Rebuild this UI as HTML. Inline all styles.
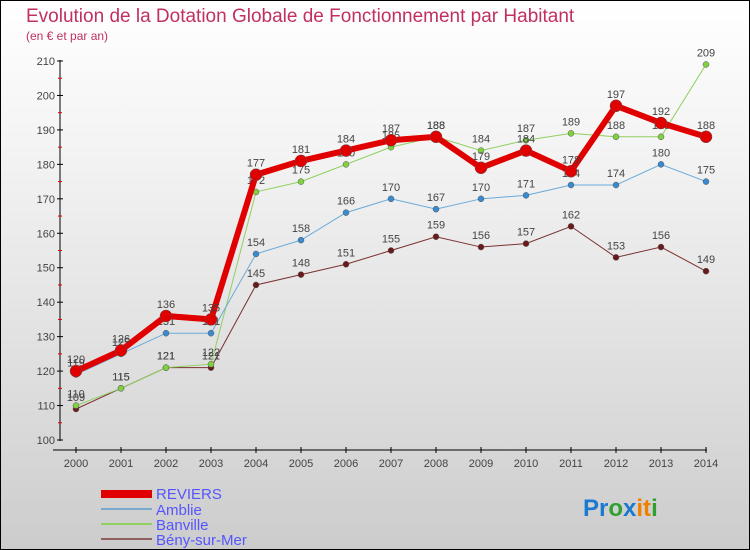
<!DOCTYPE html>
<html><head><meta charset="utf-8"><style>
body{margin:0}
#c{position:relative;width:748px;height:548px;border:1px solid #000;background:linear-gradient(#fff,#f2f2f2 30%,#d8d8d8 80%,#cccccc);font-family:"Liberation Sans",sans-serif;overflow:hidden}
</style></head><body>
<div id="c">
<svg width="748" height="548" id="s">
<text x="25" y="21" font-size="19" fill="#c03060">Evolution de la Dotation Globale de Fonctionnement par Habitant</text>
<text x="25" y="39" font-size="12" fill="#c03060">(en € et par an)</text>
<line x1="59" y1="59" x2="59" y2="440" stroke="#000"/>
<line x1="52" y1="449" x2="706" y2="449" stroke="#000"/>
<g id="ticks"></g><g id="lines"></g>
<g>
<rect x="100" y="489" width="51" height="8" fill="#e00000"/>
<text x="155" y="498" font-size="15" fill="#5555ff">REVIERS</text>
<line x1="100" y1="508" x2="151" y2="508" stroke="#7aaad0" stroke-width="2"/>
<text x="155" y="514" font-size="15" fill="#5555ff">Amblie</text>
<line x1="100" y1="523" x2="151" y2="523" stroke="#90d060" stroke-width="2"/>
<text x="155" y="529" font-size="15" fill="#5555ff">Banville</text>
<line x1="100" y1="538" x2="151" y2="538" stroke="#906060" stroke-width="2"/>
<text x="155" y="544" font-size="15" fill="#5555ff">Bény-sur-Mer</text>
</g>
<text x="582" y="515" font-size="24" font-weight="bold"><tspan fill="#1a7ad0">Pr</tspan><tspan fill="#30a030">o</tspan><tspan fill="#1a7ad0">x</tspan><tspan fill="#f08000">it</tspan><tspan fill="#30a030">i</tspan></text>
</svg></div>
<script>
const years=[2000,2001,2002,2003,2004,2005,2006,2007,2008,2009,2010,2011,2012,2013,2014];
const yTicks=[100,110,120,130,140,150,160,170,180,190,200,210];
const reviers=[120,126,136,135,177,181,184,187,188,179,184,178,197,192,188];
const amblie=[119,125,131,131,154,158,166,170,167,170,171,174,174,180,175];
const banville=[110,115,121,122,172,175,180,185,188,184,187,189,188,188,209];
const beny=[109,115,121,121,145,148,151,155,159,156,157,162,153,156,149];
const NS="http://www.w3.org/2000/svg";
function X(i){return 75+i*(705-75)/(years.length-1);}
function Y(v){return 439-(v-100)*(439-60)/110;}
function mk(t,a,p){const e=document.createElementNS(NS,t);for(const k in a)e.setAttribute(k,a[k]);p.appendChild(e);return e;}
const tk=document.getElementById('ticks');
yTicks.forEach(v=>{
 const l=mk('line',{x1:56,x2:62,y1:Y(v),y2:Y(v),stroke:'#000'},tk);
 
 
 const t=mk('text',{x:54,y:Y(v)+4,'font-size':11,fill:'#444','text-anchor':'end'},tk);
 
 
 t.textContent=v;
 if(v<210){const m=mk('line',{x1:57,x2:61,y1:Y(v+5),y2:Y(v+5),stroke:'#e00000'},tk);
 
 }
});
years.forEach((y,i)=>{
 const l=mk('line',{x1:X(i),x2:X(i),y1:446,y2:452,stroke:'#000'},tk);
 
 
 const t=mk('text',{x:X(i),y:466,'font-size':11,fill:'#444','text-anchor':'middle'},tk);
 
 
 t.textContent=y;
});
const lg=document.getElementById('lines');
function series(d,col,w,r,name,dot){
 const p=mk('polyline',{points:d.map((v,i)=>X(i)+','+Y(v)).join(' '),fill:'none',stroke:col,'stroke-width':w},lg);
 
 
 d.forEach((v,i)=>{
  const c=mk('circle',{cx:X(i),cy:Y(v),r:r,fill:dot,stroke:'#555','stroke-width':0.5},lg);
  
  
  const t=mk('text',{x:X(i),y:Y(v)-8,'font-size':11,fill:'#444','text-anchor':'middle'},lg);
  
  
  t.textContent=v;
 });
}
series(beny,'#7a3030',1,3,'beny','#6a1a1a');
series(banville,'#90d060',1,3,'banville','#80d040');
series(amblie,'#6aaad8',1,3,'amblie','#3a8ad0');
series(reviers,'#e00000',6,6,'reviers','#e00000');
</script>
</body></html>
